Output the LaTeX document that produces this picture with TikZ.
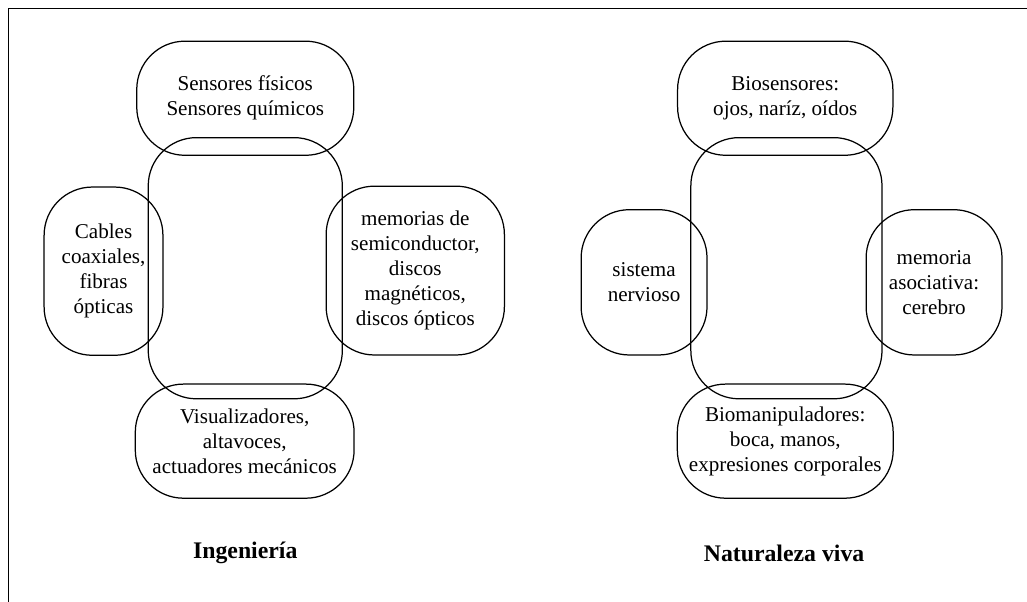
\documentclass[tikz,border=0pt]{standalone}
\usepackage{fontspec}
\setmainfont{Liberation Serif}
\usepackage{tikz}
\usetikzlibrary{positioning}

\begin{document}
\begin{tikzpicture}[
    box/.style={
      draw,
      line width=0.6pt,
      rounded corners=0.82cm,
      align=center,
      inner sep=1pt,
      font=\fontsize{10.2}{12.1}\selectfont
    },
    title/.style={
      font=\fontsize{11.5}{14}\selectfont\bfseries
    }
  ]

  \useasboundingbox (0,0) rectangle (17.46,-10.22);
  \draw[line width=0.6pt] (0.15,-10.3) -- (0.15,-0.15) -- (17.5,-0.15);

  % Ingenieria
  \node[box, minimum width=3.30cm, minimum height=4.44cm] (ingcore) at (4.17,-4.56) {};
  \node[box, minimum width=3.69cm, minimum height=1.94cm] (ingsens) at (4.17,-1.67)
    {Sensores físicos\\Sensores químicos};
  \node[box, minimum width=2.02cm, minimum height=2.86cm] (ingcom)  at (1.76,-4.61)
    {Cables\\coaxiales,\\fibras\\ópticas};
  \node[box, minimum width=3.03cm, minimum height=2.87cm] (ingmem)  at (7.06,-4.60)
    {memorias de\\semiconductor,\\discos\\magnéticos,\\discos ópticos};
  \node[box, minimum width=3.72cm, minimum height=1.94cm] (ingact)  at (4.16,-7.50)
    {Visualizadores,\\altavoces,\\actuadores mecánicos};
  \node[title] (ingtitle) at (4.17,-9.40) {Ingeniería};

  % Naturaleza viva
  \node[box, minimum width=3.25cm, minimum height=4.44cm] (natcore) at (13.37,-4.56) {};
  \node[box, minimum width=3.66cm, minimum height=1.94cm] (natsens) at (13.35,-1.67)
    {Biosensores:\\ojos, naríz, oídos};
  \node[box, minimum width=2.14cm, minimum height=2.47cm] (natcom)  at (10.95,-4.80)
    {sistema\\nervioso};
  \node[box, minimum width=2.31cm, minimum height=2.47cm] (natmem)  at (15.88,-4.80)
    {memoria\\asociativa:\\cerebro};
  \node[box, minimum width=3.67cm, minimum height=1.94cm] (natact)  at (13.35,-7.50)
    {Biomanipuladores:\\boca, manos,\\expresiones corporales};
  \node[title] (nattitle) at (13.33,-9.40) {Naturaleza viva};

\end{tikzpicture}
\end{document}
